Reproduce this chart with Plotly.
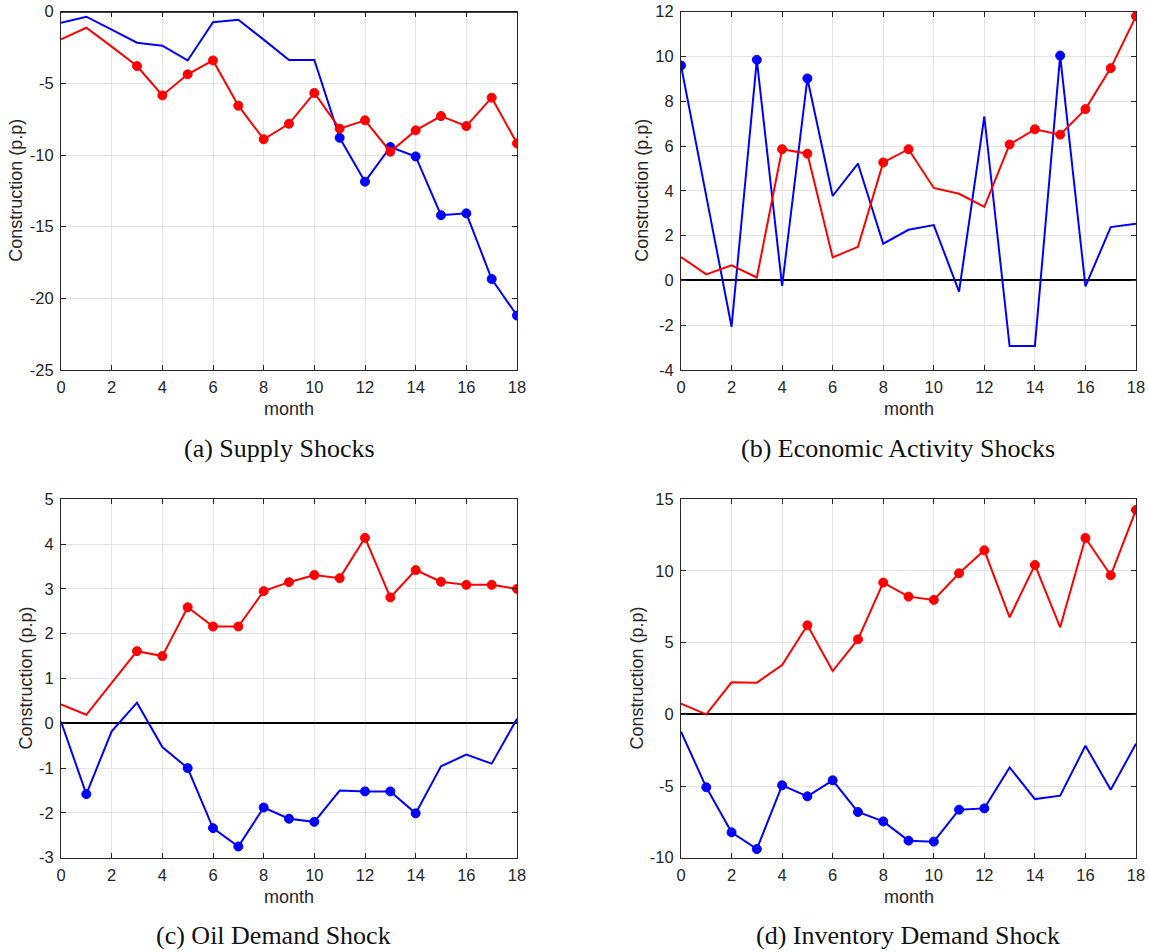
import plotly.graph_objects as go

# ---- data -----------------------------------------------------------------
months = list(range(19))
x_ticks = list(range(0, 19, 2))

# (a) Supply Shocks
supply_blue = [-0.77, -0.35, -1.25, -2.16, -2.37, -3.40, -0.74, -0.56, -1.95, -3.37,
               -3.37, -8.80, -11.86, -9.44, -10.10, -14.20, -14.07, -18.65, -21.20]
supply_red = [-1.93, -1.12, -2.44, -3.79, -5.84, -4.37, -3.40, -6.56, -8.90, -7.82,
              -5.67, -8.16, -7.58, -9.77, -8.28, -7.28, -7.98, -6.00, -9.19]
supply_blue_sig = [11, 12, 13, 14, 15, 16, 17, 18]
supply_red_sig = [3, 4, 5, 6, 7, 8, 9, 10, 11, 12, 13, 14, 15, 16, 17, 18]

# (b) Economic Activity Shocks
activity_blue = [9.60, 3.75, -2.07, 9.85, -0.24, 9.02, 3.77, 5.22, 1.64, 2.26,
                 2.47, -0.50, 7.32, -2.93, -2.93, 10.04, -0.27, 2.38, 2.53]
activity_red = [1.04, 0.27, 0.67, 0.13, 5.86, 5.66, 1.03, 1.50, 5.27, 5.86,
                4.13, 3.87, 3.28, 6.07, 6.75, 6.51, 7.65, 9.48, 11.80]
activity_blue_sig = [0, 3, 5, 15]
activity_red_sig = [4, 5, 8, 9, 13, 14, 15, 16, 17, 18]

# (c) Oil Demand Shock
oil_blue = [0.04, -1.58, -0.18, 0.46, -0.53, -1.00, -2.34, -2.75, -1.88, -2.13,
            -2.20, -1.50, -1.52, -1.52, -2.01, -0.96, -0.70, -0.90, 0.10]
oil_red = [0.42, 0.19, 0.90, 1.61, 1.50, 2.59, 2.16, 2.16, 2.95, 3.15,
           3.31, 3.24, 4.14, 2.81, 3.42, 3.16, 3.09, 3.09, 3.00]
oil_blue_sig = [1, 5, 6, 7, 8, 9, 10, 12, 13, 14]
oil_red_sig = [3, 4, 5, 6, 7, 8, 9, 10, 11, 12, 13, 14, 15, 16, 17, 18]

# (d) Inventory Demand Shock
inventory_blue = [-1.21, -5.09, -8.23, -9.40, -4.95, -5.72, -4.60, -6.81, -7.47, -8.81,
                  -8.88, -6.65, -6.56, -3.70, -5.91, -5.67, -2.19, -5.26, -2.05]
inventory_red = [0.74, 0.00, 2.23, 2.21, 3.44, 6.21, 3.02, 5.23, 9.19, 8.21,
                 7.98, 9.84, 11.44, 6.77, 10.42, 6.07, 12.30, 9.70, 14.26]
inventory_blue_sig = [1, 2, 3, 4, 5, 6, 7, 8, 9, 10, 11, 12]
inventory_red_sig = [5, 7, 8, 9, 10, 11, 12, 14, 16, 17, 18]

captions = ["(a) Supply Shocks", "(b) Economic Activity Shocks",
            "(c) Oil Demand Shock", "(d) Inventory Demand Shock"]
y_ranges = [(-25, 0), (-4, 12), (-3, 5), (-10, 15)]
y_steps = [5, 2, 1, 5]

# ---- layout geometry (pixels) ---------------------------------------------
W, H = 1149, 952
# left/right edges of each plot area, top/bottom rows
cols = [(61, 517), (681, 1136)]
rows = [(11.7, 370.0), (499.3, 857.7)]
ylabel_x = [16, 642, 25, 636]
caption_x = [279, 898, 273, 908]

BLUE = "#0000ff"
RED = "#ff0000"
AX = "#262626"
GRID = "#e3e3e3"
SANS = "Liberation Sans, Arial, sans-serif"
SERIF = "Liberation Serif, DejaVu Serif, serif"

panels = [
    (supply_blue, supply_blue_sig, supply_red, supply_red_sig),
    (activity_blue, activity_blue_sig, activity_red, activity_red_sig),
    (oil_blue, oil_blue_sig, oil_red, oil_red_sig),
    (inventory_blue, inventory_blue_sig, inventory_red, inventory_red_sig),
]

fig = go.Figure()
annotations = []
shapes = []


def px_x(p):
    return p / W


def px_y(p):
    return 1 - p / H


def marker_sizes(sig, n, size=9):
    return [size if i in sig else 0 for i in range(n)]


def tick_text(vals):
    # plain hyphen for negatives
    return [str(v) for v in vals]


for k, (blue, blue_sig, red, red_sig) in enumerate(panels):
    r, c = divmod(k, 2)
    x0, x1 = cols[c]
    top, bot = rows[r]
    sfx = "" if k == 0 else str(k + 1)
    xa, ya = "x" + sfx, "y" + sfx

    for vals, sig, col in ((blue, blue_sig, BLUE), (red, red_sig, RED)):
        fig.add_trace(go.Scatter(
            x=months, y=vals, xaxis=xa, yaxis=ya, mode="lines+markers",
            line=dict(color=col, width=2),
            marker=dict(color=col, opacity=1, size=marker_sizes(sig, len(vals)),
                        line=dict(width=1, color=col)),
            showlegend=False, hoverinfo="x+y",
        ))

    lo, hi = y_ranges[k]
    step = y_steps[k]
    yt = list(range(lo, hi + 1, step))
    common = dict(
        showline=True, linecolor=AX, linewidth=1, mirror="ticks",
        ticks="inside", ticklen=5, tickwidth=1, tickcolor=AX,
        showgrid=True, gridcolor=GRID, gridwidth=1, automargin=False,
        tickfont=dict(family=SANS, size=16.5, color=AX),
    )
    fig.update_layout(**{
        "xaxis" + sfx: dict(domain=[px_x(x0), px_x(x1)], range=[0, 18],
                            tickvals=x_ticks, ticktext=tick_text(x_ticks),
                            anchor=ya, zeroline=False, ticklabelstandoff=2, **common),
        "yaxis" + sfx: dict(domain=[px_y(bot), px_y(top)], range=[lo, hi],
                            tickvals=yt, ticktext=tick_text(yt), anchor=xa,
                            zeroline=True, zerolinecolor="black", zerolinewidth=2,
                            ticklabelstandoff=3, **common),
    })

    # zero line that sits on the upper frame (not drawn by the axis itself)
    if hi == 0:
        shapes.append(dict(type="line", xref=xa + " domain", yref=ya, x0=0, x1=1,
                           y0=0, y1=0, line=dict(color="black", width=2), layer="above"))

    cx = (x0 + x1) / 2
    annotations.append(dict(text="month", x=px_x(cx), y=px_y(bot + 39), xref="paper",
                            yref="paper", showarrow=False, xanchor="center", yanchor="middle",
                            font=dict(family=SANS, size=18, color=AX)))
    annotations.append(dict(text="Construction (p.p)", x=px_x(ylabel_x[k]),
                            y=px_y((top + bot) / 2), xref="paper", yref="paper",
                            showarrow=False, textangle=-90, xanchor="center",
                            yanchor="middle", font=dict(family=SANS, size=18, color=AX)))
    annotations.append(dict(text=captions[k], x=px_x(caption_x[k]), y=px_y(bot + 78),
                            xref="paper", yref="paper", showarrow=False, xanchor="center",
                            yanchor="middle",
                            font=dict(family=SERIF, size=26, color="#111111")))

fig.update_layout(
    width=W, height=H, margin=dict(l=0, r=0, t=0, b=0, pad=0, autoexpand=False),
    paper_bgcolor="white", plot_bgcolor="white",
    annotations=annotations, shapes=shapes,
)

fig.write_html("out.html")
